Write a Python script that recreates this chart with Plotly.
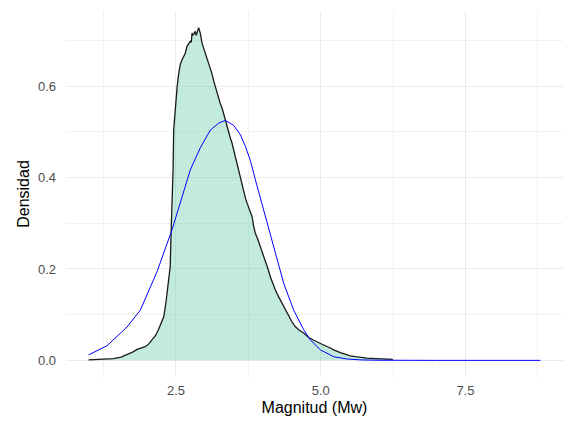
import plotly.graph_objects as go

# Empirical density (black outline, filled)
dens_x = [0.99, 1.15, 1.30, 1.42, 1.55, 1.65, 1.75, 1.83, 1.90, 1.97, 2.03, 2.09, 2.15, 2.20,
          2.25, 2.29, 2.33, 2.37, 2.40, 2.415, 2.432, 2.45, 2.46, 2.49, 2.52, 2.55, 2.575, 2.60,
          2.632, 2.66, 2.69, 2.72, 2.748, 2.765, 2.777, 2.79, 2.805, 2.82, 2.834, 2.85, 2.863,
          2.878, 2.892, 2.905, 2.92, 2.95, 2.98, 3.007, 3.035, 3.064, 3.09, 3.12, 3.15, 3.18,
          3.21, 3.237, 3.265, 3.296, 3.324, 3.353, 3.382, 3.41, 3.44, 3.469, 3.50, 3.526, 3.555,
          3.583, 3.61, 3.64, 3.67, 3.70, 3.728, 3.77, 3.814, 3.84, 3.871, 3.91, 3.958, 4.00,
          4.044, 4.09, 4.13, 4.17, 4.217, 4.27, 4.33, 4.39, 4.447, 4.50, 4.56, 4.63, 4.706,
          4.765, 4.792, 4.88, 4.995, 5.08, 5.167, 5.224, 5.34, 5.42, 5.513, 5.60, 5.686, 5.80,
          5.95, 6.10, 6.245]
dens_y = [0.001, 0.002, 0.003, 0.004, 0.007, 0.012, 0.018, 0.024, 0.027, 0.030, 0.036, 0.045,
          0.055, 0.068, 0.082, 0.096, 0.13, 0.168, 0.205, 0.278, 0.34, 0.42, 0.504, 0.563, 0.599,
          0.63, 0.648, 0.656, 0.665, 0.672, 0.687, 0.693, 0.698, 0.696, 0.716, 0.712, 0.712,
          0.718, 0.719, 0.711, 0.716, 0.722, 0.728, 0.722, 0.716, 0.694, 0.683, 0.672, 0.661,
          0.650, 0.638, 0.628, 0.612, 0.599, 0.584, 0.570, 0.562, 0.552, 0.538, 0.526, 0.512,
          0.497, 0.486, 0.475, 0.458, 0.446, 0.430, 0.413, 0.398, 0.381, 0.368, 0.355, 0.344,
          0.330, 0.315, 0.295, 0.278, 0.266, 0.249, 0.235, 0.220, 0.200, 0.183, 0.168, 0.154,
          0.140, 0.125, 0.110, 0.096, 0.085, 0.074, 0.066, 0.060, 0.053, 0.050, 0.044, 0.038,
          0.032, 0.027, 0.023, 0.017, 0.013, 0.010, 0.008, 0.006, 0.005, 0.004, 0.003, 0.002]

# Fitted curve (blue)
fit_x = [0.99, 1.309, 1.654, 1.884, 2.173, 2.432, 2.546, 2.748, 2.92, 3.094, 3.237, 3.353,
         3.497, 3.612, 3.70, 3.785, 3.872, 4.015, 4.16, 4.303, 4.36, 4.533, 4.706, 4.82, 4.995,
         5.224, 5.456, 5.70, 6.0, 7.0, 8.796]
fit_y = [0.012, 0.032, 0.073, 0.110, 0.194, 0.286, 0.333, 0.417, 0.465, 0.504, 0.519, 0.525,
         0.514, 0.494, 0.468, 0.437, 0.395, 0.329, 0.264, 0.198, 0.169, 0.110, 0.067, 0.045,
         0.023, 0.008, 0.003, 0.001, 0.0003, 0.0, 0.0]

x_ticks = [2.5, 5.0, 7.5]
x_tick_labels = ["2.5", "5.0", "7.5"]
y_ticks = [0.0, 0.2, 0.4, 0.6]
y_tick_labels = ["0.0", "0.2", "0.4", "0.6"]

fig = go.Figure()
fig.add_trace(go.Scatter(
    x=dens_x, y=dens_y, mode="lines", fill="tozeroy",
    fillcolor="rgba(102,205,170,0.4)",
    line=dict(color="#1a1a1a", width=1.3), hoverinfo="skip", showlegend=False))
fig.add_trace(go.Scatter(
    x=fit_x, y=fit_y, mode="lines",
    line=dict(color="#0000FF", width=1), hoverinfo="skip", showlegend=False))

font_family = "Liberation Sans, Arial, sans-serif"
fig.update_layout(
    width=563, height=424,
    margin=dict(l=66, r=0, t=11, b=47),
    paper_bgcolor="white", plot_bgcolor="white",
    font=dict(family=font_family),
    xaxis=dict(
        range=[0.60, 9.186], tickvals=x_ticks, ticktext=x_tick_labels,
        showgrid=True, gridcolor="#EBEBEB", gridwidth=1.1,
        minor=dict(dtick=1.25, tick0=0, showgrid=True, gridcolor="#F2F2F2", gridwidth=0.8),
        zeroline=False, showline=False, ticks="",
        tickfont=dict(size=13, color="#4D4D4D", family=font_family),
        ticklabelstandoff=4,
        title=dict(text="Magnitud (Mw)", font=dict(size=16, color="black", family=font_family),
                   standoff=4),
        automargin=False,
    ),
    yaxis=dict(
        range=[-0.0364, 0.7644], tickvals=y_ticks, ticktext=y_tick_labels,
        showgrid=True, gridcolor="#EBEBEB", gridwidth=1.1,
        minor=dict(dtick=0.1, tick0=0, showgrid=True, gridcolor="#F2F2F2", gridwidth=0.8),
        zeroline=False, showline=False, ticks="",
        tickfont=dict(size=13, color="#4D4D4D", family=font_family),
        ticklabelstandoff=9,
        title=dict(text="Densidad", font=dict(size=16, color="black", family=font_family),
                   standoff=4),
        automargin=False,
    ),
)

fig.write_html("out.html")
